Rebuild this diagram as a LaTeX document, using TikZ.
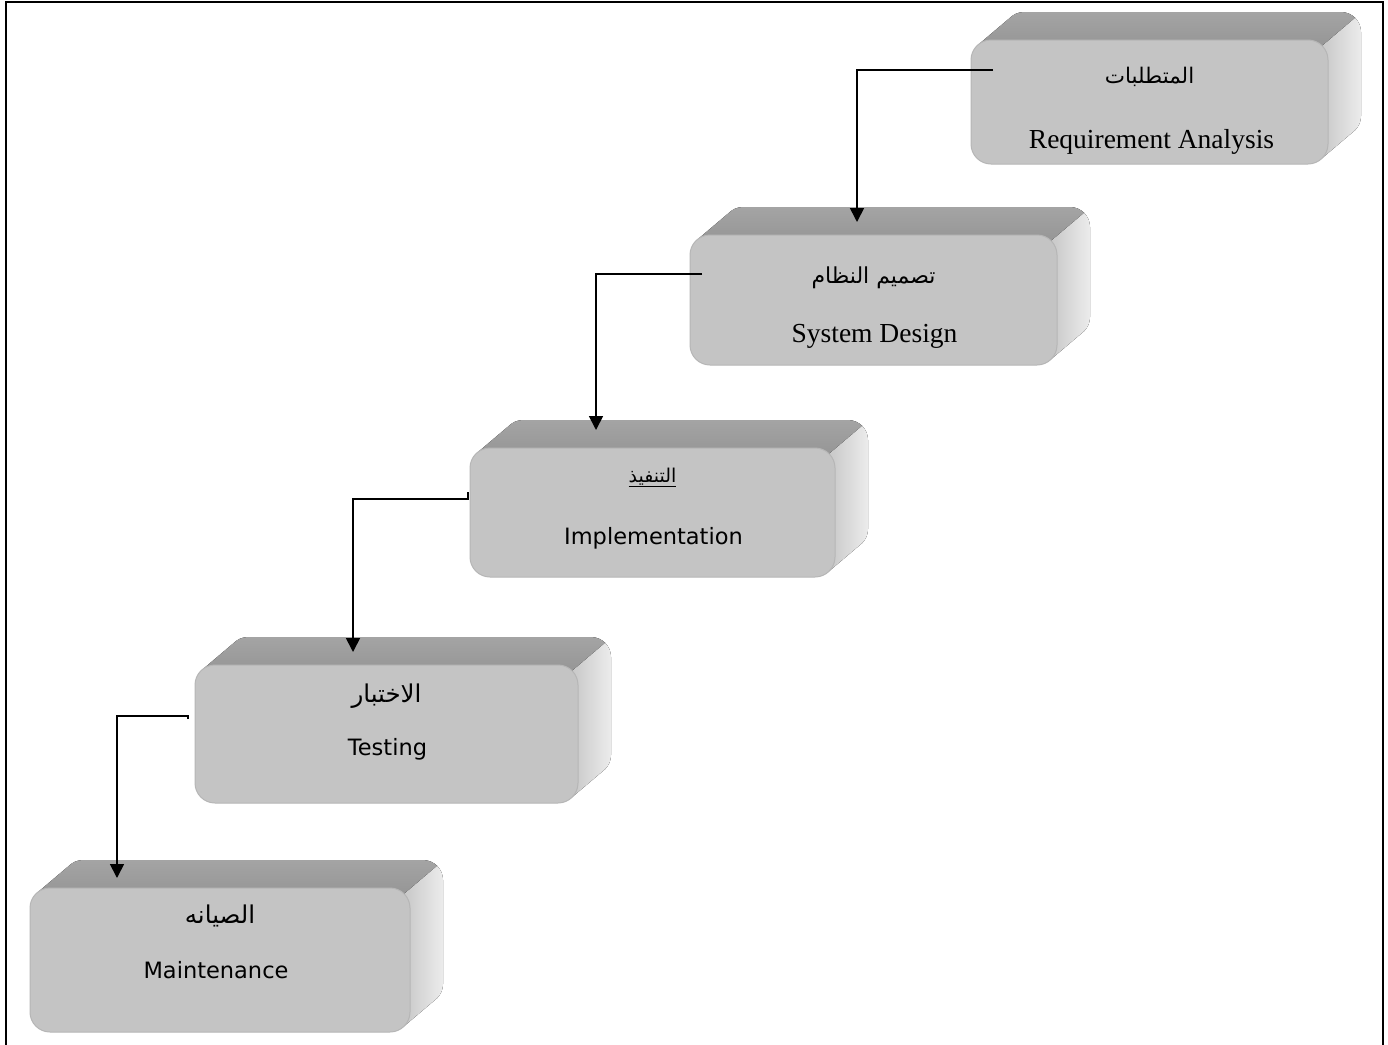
\documentclass[tikz,border=0pt]{standalone}
\usepackage{fontspec}
\setmainfont{Liberation Serif}
\newfontfamily\latinsans{DejaVu Sans}
\newfontfamily\arabicfont[Script=Arabic]{DejaVu Sans}
\TeXXeTstate=1
\usetikzlibrary{arrows.meta,calc}

\definecolor{facefront}{RGB}{196,196,196}
\definecolor{facetopA}{RGB}{164,164,164}
\definecolor{facetopB}{RGB}{150,150,150}
\definecolor{facesideA}{RGB}{200,200,200}
\definecolor{facesideB}{RGB}{236,236,236}
\definecolor{faceedge}{RGB}{182,182,182}

\tikzset{
  front/.style={rectangle, rounded corners=20pt, fill=facefront, draw=faceedge,
    line width=1pt, inner sep=0pt, outer sep=0pt},
  topface/.style={top color=facetopA, bottom color=facetopB},
  sideface/.style={left color=facesideA, right color=facesideB},
  flow/.style={line width=1.7pt, -{Triangle[width=14pt,length=14pt]}},
  artext/.style={anchor=base, inner sep=0pt},
  arsize/.style={font=\arabicfont\fontsize{#1}{#1}\selectfont},
  serifname/.style={anchor=base, inner sep=0pt, font=\fontsize{27.5}{30}\selectfont},
  sansname/.style={anchor=base, inner sep=0pt, font=\latinsans\fontsize{22.5}{26}\selectfont},
}

% top and right faces of an extruded block; arguments: left, top, right, bottom
% of the front face, measured downward from the top edge of the picture
\newcommand\blockdepth[4]{%
  \pgfmathsetmacro\bL{#1}\pgfmathsetmacro\bR{#3}%
  \pgfmathsetmacro\bT{-#2}\pgfmathsetmacro\bB{-#4}%
  \fill[topface] ({\bL+5.86},{\bT-5.86}) -- ++(33,28)
    arc[start angle=135,end angle=90,radius=20] -- ({\bR-20+33},{\bT+28})
    arc[start angle=90,end angle=45,radius=20] -- ({\bR-5.86},{\bT-5.86}) -- cycle;
  \fill[sideface] ({\bR-5.86},{\bT-5.86}) -- ++(33,28)
    arc[start angle=45,end angle=0,radius=20] -- ({\bR+33},{\bB+20+28})
    arc[start angle=0,end angle=-45,radius=20] -- ({\bR-5.86},{\bB+5.86}) -- cycle;
}

\begin{document}
\begin{tikzpicture}[x=1pt,y=1pt]
\useasboundingbox (0,0) rectangle (1388,-1044);
\fill[white] (0,0) rectangle (1388,-1044);

% outer frame
\draw[line width=2pt] (6,-1050) -- (6,-2) -- (1383,-2) -- (1383,-1050);

% blocks
\blockdepth{971}{40}{1328}{164}
\node[front, minimum width=357pt, minimum height=124pt] (b1) at (1149.5,-102) {};
\blockdepth{690}{235}{1057}{365}
\node[front, minimum width=367pt, minimum height=130pt] (b2) at (873.5,-300) {};
\blockdepth{470}{448}{835}{577}
\node[front, minimum width=365pt, minimum height=129pt] (b3) at (652.5,-512.5) {};
\blockdepth{195}{665}{578}{803}
\node[front, minimum width=383pt, minimum height=138pt] (b4) at (386.5,-734) {};
\blockdepth{30}{888}{410}{1032}
\node[front, minimum width=380pt, minimum height=144pt] (b5) at (220,-960) {};

% labels
\node[artext, arsize=21.5] (b1ar) at ([yshift=-43pt]b1.north) {\beginR المتطلبات\endR};
\node[serifname] (b1en) at ([shift={(2,-108)}]b1.north) {Requirement Analysis};
\node[artext, arsize=22] (b2ar) at ([yshift=-48pt]b2.north) {\beginR تصميم النظام\endR};
\node[serifname] (b2en) at ([shift={(1,-107)}]b2.north) {System Design};
\node[artext, arsize=19] (b3ar) at ([yshift=-34pt]b3.north) {\underline{\beginR التنفيذ\endR}};
\node[sansname] (b3en) at ([shift={(1,-96)}]b3.north) {Implementation};
\node[artext, arsize=24.5] (b4ar) at ([yshift=-37pt]b4.north) {\beginR الاختبار\endR};
\node[sansname] (b4en) at ([shift={(1,-90)}]b4.north) {Testing};
\node[artext, arsize=24.5] (b5ar) at ([yshift=-35pt]b5.north) {\beginR الصيانه\endR};
\node[sansname] (b5en) at ([shift={(-4,-90)}]b5.north) {Maintenance};

% connectors
\draw[flow] ([shift={(22,32)}]b1.west) -| ([shift={(-16.5,13)}]b2.north);
\draw[flow] ([shift={(12,26)}]b2.west) -| ([shift={(-56.5,18)}]b3.north);
\draw[flow] ([shift={(-2,20.5)}]b3.west) -- ([shift={(-2,13.5)}]b3.west)
  -| ([shift={(-33.5,13)}]b4.north);
\draw[flow] ([shift={(-7,15)}]b4.west) -- ([shift={(-7,18)}]b4.west)
  -| ([shift={(-103,10)}]b5.north);
\end{tikzpicture}
\end{document}
